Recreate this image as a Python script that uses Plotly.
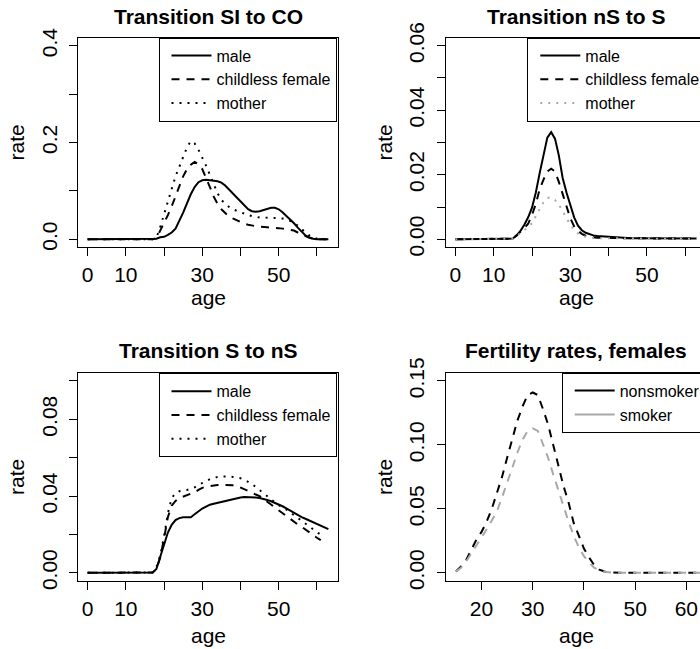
import plotly.graph_objects as go

FONT = "Liberation Sans"
W, H = 700, 649

# ---------------- data ----------------
ages = list(range(0, 64))

si_co_male = [0, 0, 0, 0, 0, 0, 0, 0, 0, 0, 0, 0, 0, 0, 0, 0, 0, 0,
              0.001, 0.004, 0.005, 0.009, 0.014, 0.022, 0.038, 0.055, 0.074, 0.093,
              0.108, 0.118, 0.122, 0.123, 0.122, 0.121, 0.120, 0.117, 0.111, 0.103,
              0.095, 0.086, 0.077, 0.069, 0.062, 0.058, 0.057, 0.058, 0.060, 0.063,
              0.065, 0.065, 0.062, 0.056, 0.049, 0.042, 0.033, 0.024, 0.015, 0.008,
              0.004, 0.001, 0, 0, 0, 0]
si_co_female = [0, 0, 0, 0, 0, 0, 0, 0, 0, 0, 0, 0, 0, 0, 0, 0, 0, 0,
                0.002, 0.018, 0.032, 0.050, 0.068, 0.090, 0.112, 0.130, 0.145, 0.154,
                0.160, 0.155, 0.145, 0.128, 0.108, 0.088, 0.073, 0.062, 0.054, 0.047,
                0.043, 0.039, 0.035, 0.032, 0.030, 0.028, 0.027, 0.026, 0.026, 0.025,
                0.024, 0.024, 0.023, 0.022, 0.021, 0.020, 0.018, 0.014, 0.010, 0.006,
                0.003, 0.001, 0, 0, 0, 0]
si_co_mother = [0, 0, 0, 0, 0, 0, 0, 0, 0, 0, 0, 0, 0, 0, 0, 0, 0, 0,
                0.003, 0.025, 0.052, 0.078, 0.105, 0.130, 0.150, 0.171, 0.190, 0.203,
                0.198, 0.185, 0.170, 0.152, 0.133, 0.115, 0.095, 0.081, 0.073, 0.067,
                0.062, 0.059, 0.055, 0.052, 0.050, 0.048, 0.046, 0.045, 0.045, 0.044,
                0.044, 0.044, 0.044, 0.043, 0.041, 0.038, 0.033, 0.028, 0.021, 0.014,
                0.008, 0.004, 0.001, 0, 0, 0]

ns_s_male = [0, 0, 0, 0, 0, 0, 0, 0, 0, 0, 0, 0, 0, 0, 0,
             0.0002, 0.0012, 0.0026, 0.0045, 0.0068, 0.0098, 0.0145, 0.0205, 0.0265,
             0.0315, 0.0332, 0.0312, 0.0260, 0.0190, 0.0145, 0.0105, 0.0068, 0.0042,
             0.0028, 0.0020, 0.0015, 0.0012, 0.0010, 0.0009, 0.0008, 0.0007, 0.0006,
             0.0005, 0.0004, 0.0004, 0.0004, 0.0003, 0.0003, 0.0003, 0.0003, 0.0003,
             0.0003, 0.0003, 0.0003, 0.0003, 0.0003, 0.0003, 0.0002, 0.0002, 0.0002,
             0.0002, 0.0002, 0.0002, 0.0002]
ns_s_female = [0, 0, 0, 0, 0, 0, 0, 0, 0, 0, 0, 0, 0, 0, 0,
               0.0002, 0.0012, 0.0022, 0.0035, 0.0048, 0.0075, 0.0110, 0.0155, 0.0185,
               0.0210, 0.0219, 0.0210, 0.0178, 0.0140, 0.0098, 0.0065, 0.0040, 0.0026,
               0.0017, 0.0011, 0.0008, 0.0006, 0.0005, 0.0005, 0.0004, 0.0004, 0.0004,
               0.0004, 0.0003, 0.0003, 0.0003, 0.0003, 0.0003, 0.0003, 0.0003, 0.0003,
               0.0003, 0.0003, 0.0003, 0.0003, 0.0003, 0.0002, 0.0002, 0.0002, 0.0002,
               0.0002, 0.0002, 0.0002, 0.0002]
ns_s_mother = [0, 0, 0, 0, 0, 0, 0, 0, 0, 0, 0, 0, 0, 0, 0,
               0.0002, 0.0010, 0.0018, 0.0028, 0.0038, 0.0050, 0.0072, 0.0094, 0.0115,
               0.0128, 0.0130, 0.0122, 0.0107, 0.0087, 0.0066, 0.0045, 0.0029, 0.0018,
               0.0011, 0.0007, 0.0005, 0.0004, 0.0003, 0.0003, 0.0003, 0.0003, 0.0003,
               0.0002, 0.0002, 0.0002, 0.0002, 0.0002, 0.0002, 0.0002, 0.0002, 0.0002,
               0.0002, 0.0002, 0.0002, 0.0002, 0.0001, 0.0001, 0.0001, 0.0001, 0.0001,
               0.0001, 0.0001, 0.0001, 0.0001]

s_ns_male = [0, 0, 0, 0, 0, 0, 0, 0, 0, 0, 0, 0, 0, 0, 0, 0, 0,
             0.0002, 0.0020, 0.0080, 0.0140, 0.0210, 0.0250, 0.0275, 0.0285, 0.0290,
             0.0290, 0.0290, 0.0305, 0.0320, 0.0335, 0.0345, 0.0355, 0.0360, 0.0365,
             0.0370, 0.0375, 0.0380, 0.0385, 0.0390, 0.0393, 0.0395, 0.0395, 0.0394,
             0.0392, 0.0390, 0.0386, 0.0380, 0.0373, 0.0365, 0.0357, 0.0347, 0.0336,
             0.0324, 0.0312, 0.0300, 0.0290, 0.0282, 0.0273, 0.0264, 0.0255, 0.0246,
             0.0237, 0.0228]
s_ns_female = [0, 0, 0, 0, 0, 0, 0, 0, 0, 0, 0, 0, 0, 0, 0, 0, 0,
               0.0002, 0.0020, 0.0080, 0.0180, 0.0290, 0.0350, 0.0375, 0.0390, 0.0397,
               0.0405, 0.0410, 0.0420, 0.0432, 0.0443, 0.0449, 0.0453, 0.0456, 0.0458,
               0.0459, 0.0459, 0.0458, 0.0456, 0.0453, 0.0445, 0.0437, 0.0428, 0.0418,
               0.0408, 0.0400, 0.0385, 0.0370, 0.0355, 0.0340, 0.0325, 0.0310, 0.0296,
               0.0280, 0.0266, 0.0252, 0.0240, 0.0225, 0.0210, 0.0197, 0.0183, 0.0170]
s_ns_mother = [0, 0, 0, 0, 0, 0, 0, 0, 0, 0, 0, 0, 0, 0, 0, 0, 0,
               0.0002, 0.0030, 0.0090, 0.0190, 0.0310, 0.0390, 0.0415, 0.0425, 0.0428,
               0.0432, 0.0438, 0.0445, 0.0458, 0.0470, 0.0478, 0.0488, 0.0495, 0.0500,
               0.0502, 0.0503, 0.0502, 0.0500, 0.0497, 0.0493, 0.0485, 0.0475, 0.0463,
               0.0447, 0.0432, 0.0417, 0.0400, 0.0383, 0.0367, 0.0353, 0.0340, 0.0330,
               0.0315, 0.0300, 0.0287, 0.0272, 0.0255, 0.0240, 0.0225, 0.0212, 0.0198,
               0.0186]

fert_ages = list(range(15, 66))
fert_nonsmoker = [0.001, 0.005, 0.010, 0.018, 0.026, 0.032, 0.040, 0.050, 0.062, 0.075,
                  0.090, 0.104, 0.119, 0.130, 0.139, 0.141, 0.139, 0.128, 0.116, 0.100,
                  0.084, 0.068, 0.055, 0.039, 0.029, 0.019, 0.012, 0.006, 0.0025, 0.001,
                  0.0003, 0, 0, 0, 0, 0, 0, 0, 0, 0, 0, 0, 0, 0, 0, 0, 0, 0, 0, 0, 0]
fert_smoker = [0.001, 0.004, 0.009, 0.015, 0.021, 0.027, 0.034, 0.041, 0.048, 0.059,
               0.070, 0.082, 0.094, 0.104, 0.111, 0.113, 0.111, 0.101, 0.090, 0.077,
               0.064, 0.052, 0.040, 0.029, 0.020, 0.013, 0.008, 0.004, 0.002, 0.0008,
               0.0002, 0, 0, 0, 0, 0, 0, 0, 0, 0, 0, 0, 0, 0, 0, 0, 0, 0, 0, 0, 0]

titles = ["Transition SI to CO", "Transition nS to S", "Transition S to nS", "Fertility rates, females"]
group_names = ["male", "childless female", "mother"]
fert_names = ["nonsmoker", "smoker"]

x_ticks_age = [0, 10, 20, 30, 40, 50, 60]
x_text_age = ["0", "10", "", "30", "", "50", ""]
y1_ticks = [0, 0.1, 0.2, 0.3, 0.4]
y1_text = ["0.0", "", "0.2", "", "0.4"]
y2_ticks = [0, 0.01, 0.02, 0.03, 0.04, 0.05, 0.06]
y2_text = ["0.00", "", "0.02", "", "0.04", "", "0.06"]
y3_ticks = [0, 0.02, 0.04, 0.06, 0.08, 0.10]
y3_text = ["0.00", "", "0.04", "", "0.08", ""]
x4_ticks = [20, 30, 40, 50, 60]
x4_text = ["20", "30", "40", "50", "60"]
y4_ticks = [0, 0.05, 0.10, 0.15]
y4_text = ["0.00", "0.05", "0.10", "0.15"]

# ---------------- layout helpers ----------------
def px_x(p):
    return p / W

def px_y(p):
    return 1 - p / H

GRAY = "#a8a8a8"
SOLID = dict(color="black", width=2, dash="solid")
DASH = dict(color="black", width=2, dash="8px,7px")
DOT = dict(color="black", width=2, dash="2px,6px")

fig = go.Figure()

def add(x, y, xa, ya, name, line, legend, showlegend=True):
    fig.add_trace(go.Scatter(x=x, y=y, mode="lines", name=name, line=line,
                             xaxis=xa, yaxis=ya, legend=legend,
                             showlegend=showlegend, hoverinfo="skip"))

# panel 1
add(ages, si_co_male, "x", "y", group_names[0], SOLID, "legend")
add(ages, si_co_female, "x", "y", group_names[1], DASH, "legend")
add(ages, si_co_mother, "x", "y", group_names[2], DOT, "legend")
# panel 2
add(ages, ns_s_male, "x2", "y2", group_names[0], SOLID, "legend2")
add(ages, ns_s_female, "x2", "y2", group_names[1], DASH, "legend2")
add(ages, ns_s_mother, "x2", "y2", group_names[2], dict(DOT, color=GRAY), "legend2")
# panel 3
add(ages[:len(s_ns_male)], s_ns_male, "x3", "y3", group_names[0], SOLID, "legend3")
add(ages[:len(s_ns_female)], s_ns_female, "x3", "y3", group_names[1], DASH, "legend3")
add(ages[:len(s_ns_mother)], s_ns_mother, "x3", "y3", group_names[2], DOT, "legend3")
# panel 4 (dashed curves, solid legend keys)
add(fert_ages, fert_nonsmoker, "x4", "y4", fert_names[0], DASH, "legend4", False)
add(fert_ages, fert_smoker, "x4", "y4", fert_names[1], dict(DASH, color=GRAY), "legend4", False)
add([None], [None], "x4", "y4", fert_names[0], SOLID, "legend4")
add([None], [None], "x4", "y4", fert_names[1], dict(SOLID, color=GRAY), "legend4")

tickfont = dict(family=FONT, size=21, color="black")

def xaxis(domain, rng, tv, tt, anchor):
    return dict(domain=domain, range=rng, tickmode="array", tickvals=tv, ticktext=tt,
                showline=True, linecolor="black", linewidth=1, mirror=True,
                ticks="outside", ticklen=8, tickwidth=1, tickcolor="black",
                showgrid=False, zeroline=False, tickfont=tickfont, anchor=anchor,
                ticklabelstandoff=1, fixedrange=True)

def yaxis(domain, rng, tv, tt, anchor, mirror=True):
    return dict(domain=domain, range=rng, tickmode="array", tickvals=tv, ticktext=tt,
                showline=True, linecolor="black", linewidth=1, mirror=mirror,
                ticks="outside", ticklen=8, tickwidth=1, tickcolor="black",
                showgrid=False, zeroline=False, tickfont=tickfont, anchor=anchor,
                tickangle=-90, ticklabelstandoff=4, fixedrange=True)

xl = [px_x(78), px_x(338)]
xr = [px_x(445.7), 1.0]
yt = [px_y(247), px_y(38)]
yb = [px_y(580.5), px_y(373.3)]

legend_common = dict(xref="paper", yref="paper", xanchor="left", yanchor="top",
                     bgcolor="white", bordercolor="black", borderwidth=1,
                     font=dict(family=FONT, size=16, color="black"),
                     itemwidth=40, indentation=7, tracegroupgap=0)

annotations = []
def ann(text, x, y, size=21, bold=False, angle=0):
    annotations.append(dict(text=f"<b>{text}</b>" if bold else text, x=px_x(x), y=px_y(y),
                            xref="paper", yref="paper", xanchor="center", yanchor="middle",
                            showarrow=False, textangle=angle,
                            font=dict(family=FONT, size=size, color="black")))

ann(titles[0], 208, 16, 21, True)
ann(titles[1], 576, 16, 21, True)
ann(titles[2], 208, 350, 21, True)
ann(titles[3], 576, 350, 21, True)
for cx, cy in [(208, 298), (576, 298), (208, 635), (576, 635)]:
    ann("age", cx, cy)
for cx, cy in [(16, 142.5), (384, 142.5), (16, 477), (384, 477)]:
    ann("rate", cx, cy, angle=-90)

fig.update_layout(
    width=W, height=H,
    margin=dict(l=0, r=0, t=0, b=0, autoexpand=False),
    paper_bgcolor="white", plot_bgcolor="white",
    font=dict(family=FONT, color="black"),
    xaxis=xaxis(xl, [-2.52, 65.52], x_ticks_age, x_text_age, "y"),
    yaxis=yaxis(yt, [-0.016, 0.416], y1_ticks, y1_text, "x"),
    xaxis2=xaxis(xr, [-2.52, 63.84], x_ticks_age, x_text_age, "y2"),
    yaxis2=yaxis(yt, [-0.0024, 0.0624], y2_ticks, y2_text, "x2", mirror=False),
    xaxis3=xaxis(xl, [-2.52, 65.52], x_ticks_age, x_text_age, "y3"),
    yaxis3=yaxis(yb, [-0.004, 0.104], y3_ticks, y3_text, "x3"),
    xaxis4=xaxis(xr, [13, 62.67], x4_ticks, x4_text, "y4"),
    yaxis4=yaxis(yb, [-0.006, 0.156], y4_ticks, y4_text, "x4", mirror=False),
    legend=dict(legend_common, x=px_x(158.5), y=px_y(37.5)),
    legend2=dict(legend_common, x=px_x(527.3), y=px_y(37.5)),
    legend3=dict(legend_common, x=px_x(158.5), y=px_y(373.3)),
    legend4=dict(legend_common, x=px_x(561.7), y=px_y(372.7)),
    annotations=annotations,
    showlegend=True,
)

fig.write_html("out.html")
